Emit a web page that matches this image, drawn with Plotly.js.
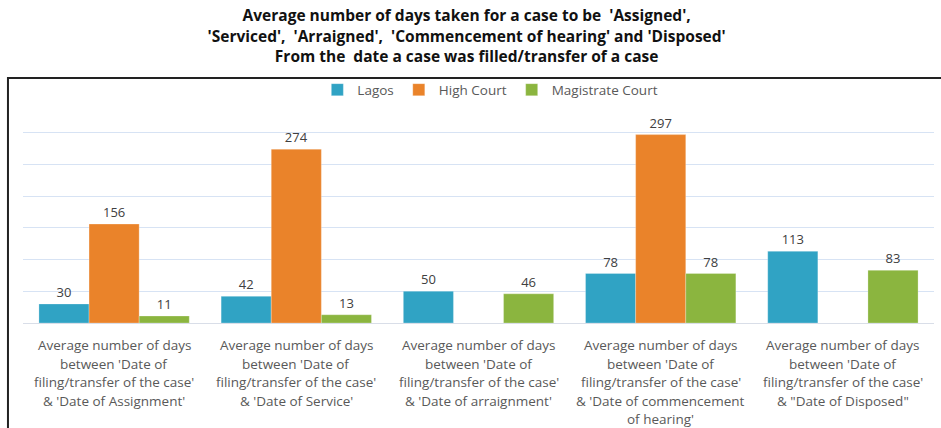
<!DOCTYPE html>
<html>
<head>
<meta charset="utf-8">
<script src="https://cdn.plot.ly/plotly-3.0.1.min.js"></script>
<style>html,body{margin:0;padding:0;background:#fff;}#chart{width:941px;height:428px;}</style>
</head>
<body>
<div id="chart"></div>
<script>
var categories = ["Assignment", "Service", "Arraignment", "Commencement of hearing", "Disposed"];
var categoryLabelLines = [
  ["Average number of days", "between 'Date of", "filing/transfer of the case'", "& 'Date of Assignment'"],
  ["Average number of days", "between 'Date of", "filing/transfer of the case'", "& 'Date of Service'"],
  ["Average number of days", "between 'Date of", "filing/transfer of the case'", "& 'Date of arraignment'"],
  ["Average number of days", "between 'Date of", "filing/transfer of the case'", "& 'Date of commencement", "of hearing'"],
  ["Average number of days", "between 'Date of", "filing/transfer of the case'", "& \"Date of Disposed\""]
];
var seriesNames = ["Lagos", "High Court", "Magistrate Court"];
var lagos = [30, 42, 50, 78, 113];
var highCourt = [156, 274, null, 297, null];
var magistrateCourt = [11, 13, 46, 78, 83];
var titleText = "Average number of days taken for a case to be  'Assigned',<br>'Serviced',  'Arraigned',  'Commencement of hearing' and 'Disposed'<br>From the  date a case was filled/transfer of a case";

var colors = ["#30A3C4", "#EA832A", "#8BB53F"];
var allSeries = [lagos, highCourt, magistrateCourt];
var font = "Open Sans, sans-serif";

var traces = allSeries.map(function (vals, i) {
  return {
    type: "bar",
    name: seriesNames[i],
    x: categories,
    y: vals,
    text: vals.map(function (v) { return v === null ? "" : String(v); }),
    textposition: "outside",
    cliponaxis: false,
    textfont: {family: font, size: 13, color: "#404040"},
    marker: {color: colors[i], line: {color: "rgba(255,255,255,0.5)", width: 0.5}},
    hoverinfo: "x+y+name"
  };
});

var annotations = [];
categoryLabelLines.forEach(function (lines, ci) {
  lines.forEach(function (line, li) {
    annotations.push({
      x: categories[ci], xref: "x",
      y: 0, yref: "paper",
      yanchor: "middle",
      yshift: -(22 + li * 18.5),
      text: line,
      showarrow: false,
      font: {family: font, size: 13.5, color: "#595959"}
    });
  });
});

var layout = {
  width: 941, height: 428,
  margin: {l: 23, r: 7, t: 101, b: 105},
  paper_bgcolor: "#ffffff",
  plot_bgcolor: "#ffffff",
  barmode: "group",
  bargap: 0.175,
  bargroupgap: 0,
  title: {
    text: titleText,
    font: {family: font, size: 15.5, color: "#111111", weight: "bold"},
    x: 0.487, xref: "paper", xanchor: "center",
    y: 0.95, yref: "container", yanchor: "top"
  },
  showlegend: true,
  legend: {
    orientation: "h",
    x: 0.513, xanchor: "center",
    y: 1.05, yanchor: "middle",
    font: {family: font, size: 13.5, color: "#595959"},
    bgcolor: "rgba(0,0,0,0)",
    itemwidth: 30,
    traceorder: "normal"
  },
  xaxis: {
    type: "category",
    showticklabels: false,
    showgrid: false,
    zeroline: false,
    showline: true,
    linecolor: "#D9DEE8",
    linewidth: 1,
    ticks: ""
  },
  yaxis: {
    range: [0, 350],
    dtick: 50,
    showticklabels: false,
    showgrid: true,
    gridcolor: "#D7E3F4",
    gridwidth: 1,
    zeroline: false,
    showline: false,
    ticks: ""
  },
  annotations: annotations,
  shapes: [{
    type: "rect",
    xref: "paper", yref: "paper",
    x0: -0.0165, x1: 1.2,
    y0: -1.0, y1: 1.1036,
    line: {color: "#222222", width: 2},
    fillcolor: "rgba(0,0,0,0)",
    layer: "below"
  }]
};

Plotly.newPlot("chart", traces, layout, {displayModeBar: false, staticPlot: true});
</script>
</body>
</html>
